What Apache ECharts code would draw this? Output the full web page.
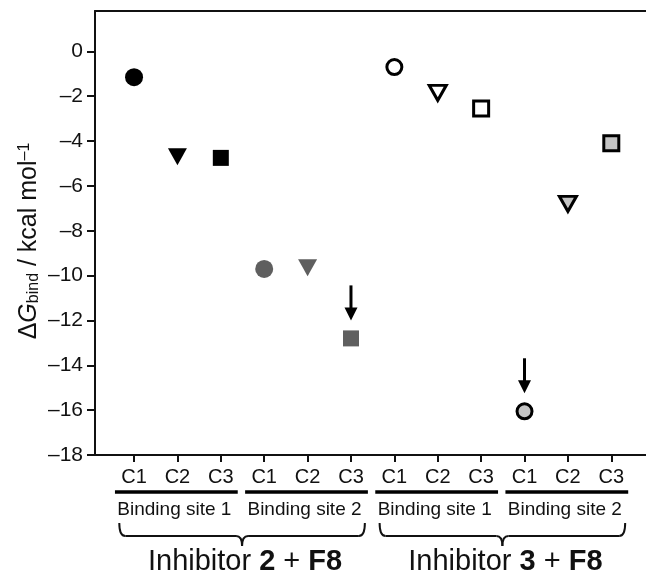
<!DOCTYPE html>
<html>
<head>
<meta charset="utf-8">
<script src="https://cdn.jsdelivr.net/npm/echarts@6/dist/echarts.min.js"></script>
<style>
  html, body { margin: 0; padding: 0; background: #fff; }
  #main { width: 646px; height: 575px; }
</style>
</head>
<body>
<div id="main"></div>
<script>
// data
var conformers = ["C1", "C2", "C3"];
var siteNames = ["Binding site 1", "Binding site 2"];
var inhibitorNames = ["2", "3"];
var inh2Site1 = [-1.15, -4.7, -4.75];
var inh2Site2 = [-9.7, -9.65, -12.8];
var inh3Site1 = [-0.7, -1.85, -2.55];
var inh3Site2 = [-16.05, -6.8, -4.1];
var yTicks = [-18, -16, -14, -12, -10, -8, -6, -4, -2, 0];

var FONT = "Liberation Sans, Arial, sans-serif";
var shapes = ["circle", "triangle", "rect"];
var positions = [];
for (var i = 1; i <= 12; i++) positions.push(i);

function makeSeries(name, values, group, fill, border) {
  var sizes = border ? [15, [17, 15], 15] : [18, [19, 17], 16];
  return {
    type: "scatter",
    name: name,
    data: values.map(function (v, j) {
      return {
        value: [group * 3 + j + 1, v],
        symbol: shapes[j],
        symbolSize: sizes[j],
        symbolRotate: j === 1 ? 180 : 0
      };
    }),
    itemStyle: {
      color: fill,
      borderColor: border || fill,
      borderWidth: border ? 3 : 0,
      opacity: 1
    },
    z: 3
  };
}

// the lowest value of each inhibitor gets an arrow
function lowest(values, group) {
  var min = Math.min.apply(null, values);
  return [group * 3 + values.indexOf(min) + 1, min];
}
var arrowTargets = [
  lowest(inh2Site1.concat(inh2Site2), 0),
  lowest(inh3Site1.concat(inh3Site2), 2)
];

var myChart = echarts.init(document.getElementById("main"));

var option = {
  animation: false,
  grid: { left: 95, right: 0, top: 11, bottom: 120 },
  xAxis: [
    {
      type: "value",
      min: 0.1,
      max: 12.8,
      position: "bottom",
      axisLine: { onZero: false, lineStyle: { color: "#111", width: 2 } },
      axisTick: { length: 7, lineStyle: { color: "#111", width: 2 }, customValues: positions },
      axisLabel: {
        customValues: positions,
        formatter: function (v) { return conformers[(v - 1) % 3]; },
        fontSize: 20,
        fontFamily: FONT,
        color: "#111",
        margin: 12
      },
      splitLine: { show: false }
    },
    {
      type: "value",
      min: 0.1,
      max: 12.8,
      position: "top",
      axisLine: { onZero: false, lineStyle: { color: "#111", width: 2 } },
      axisTick: { show: false },
      axisLabel: { show: false },
      splitLine: { show: false }
    }
  ],
  yAxis: {
    type: "value",
    min: -18,
    max: 1.8,
    axisLine: { show: true, lineStyle: { color: "#111", width: 2 } },
    axisTick: { show: true, length: 8, lineStyle: { color: "#111", width: 2 }, customValues: yTicks },
    axisLabel: {
      customValues: yTicks,
      formatter: function (v) { return v < 0 ? "\u2013" + Math.abs(v) : String(v); },
      fontSize: 21,
      fontFamily: FONT,
      color: "#111",
      margin: 12
    },
    splitLine: { show: false }
  },
  series: [
    makeSeries("Inhibitor 2, site 1", inh2Site1, 0, "#000000", null),
    makeSeries("Inhibitor 2, site 2", inh2Site2, 1, "#5f5f5f", null),
    makeSeries("Inhibitor 3, site 1", inh3Site1, 2, "#ffffff", "#000000"),
    makeSeries("Inhibitor 3, site 2", inh3Site2, 3, "#c4c4c4", "#000000"),
    {
      type: "custom",
      silent: true,
      data: arrowTargets,
      renderItem: function (params, api) {
        var p = api.coord([api.value(0), api.value(1)]);
        var tip = p[1] - 18;
        return {
          type: "group",
          children: [
            {
              type: "line",
              shape: { x1: p[0], y1: tip - 35, x2: p[0], y2: tip - 10 },
              style: { stroke: "#000", lineWidth: 3 }
            },
            {
              type: "polygon",
              shape: { points: [[p[0] - 6.5, tip - 13], [p[0] + 6.5, tip - 13], [p[0], tip]] },
              style: { fill: "#000" }
            }
          ]
        };
      }
    }
  ]
};

myChart.setOption(option);

// group annotations under the x axis
function px(v) { return myChart.convertToPixel({ xAxisIndex: 0 }, v); }

var graphics = [];
graphics.push({
  type: "text",
  x: 29,
  y: 241,
  rotation: Math.PI / 2,
  style: {
    text: "{n|\u0394}{i|G}{s|bind}{n| / kcal mol}{p|\u20131}",
    align: "center",
    verticalAlign: "middle",
    fill: "#111",
    rich: {
      n: { fontSize: 25, fontFamily: FONT, fill: "#111" },
      i: { fontSize: 25, fontFamily: FONT, fontStyle: "italic", fill: "#111" },
      s: { fontSize: 16, fontFamily: FONT, verticalAlign: "bottom", fill: "#111" },
      p: { fontSize: 16, fontFamily: FONT, verticalAlign: "top", fill: "#111" }
    }
  }
});

for (var g = 0; g < 4; g++) {
  var first = g * 3 + 1, last = g * 3 + 3;
  var x1 = px(first - 0.44), x2 = px(last + 0.39);
  graphics.push({
    type: "line",
    shape: { x1: x1, y1: 492, x2: x2, y2: 492 },
    style: { stroke: "#000", lineWidth: 3.5 }
  });
  graphics.push({
    type: "text",
    x: (x1 + x2) / 2 - 2,
    y: 510,
    style: {
      text: siteNames[g % 2],
      font: "19px " + FONT,
      fill: "#111",
      align: "center",
      verticalAlign: "middle"
    }
  });
}

function curve(ax, ay, cx, cy, bx, by) {
  return {
    type: "bezierCurve",
    shape: { x1: ax, y1: ay, cpx1: cx, cpy1: cy, x2: bx, y2: by },
    style: { stroke: "#111", lineWidth: 2, fill: null }
  };
}
function seg(ax, ay, bx, by) {
  return {
    type: "line",
    shape: { x1: ax, y1: ay, x2: bx, y2: by },
    style: { stroke: "#111", lineWidth: 2 }
  };
}

for (var k = 0; k < 2; k++) {
  var b1 = px(k * 6 + 1 - 0.34), b2 = px(k * 6 + 6 + 0.32);
  var bc = (b1 + b2) / 2;
  graphics.push(curve(b1, 523, b1, 536, b1 + 6, 536));
  graphics.push(seg(b1 + 6, 536, bc - 6, 536));
  graphics.push(curve(bc - 6, 536, bc, 536, bc, 546));
  graphics.push(curve(bc, 546, bc, 536, bc + 6, 536));
  graphics.push(seg(bc + 6, 536, b2 - 6, 536));
  graphics.push(curve(b2 - 6, 536, b2, 536, b2, 523));
  graphics.push({
    type: "text",
    x: bc + 3,
    y: 562,
    style: {
      text: "{n|Inhibitor }{b|" + inhibitorNames[k] + "}{n| + }{b|F8}",
      align: "center",
      verticalAlign: "middle",
      rich: {
        n: { fontSize: 29, fontFamily: FONT, fill: "#111" },
        b: { fontSize: 29, fontFamily: FONT, fontWeight: "bold", fill: "#111" }
      }
    }
  });
}

myChart.setOption({ graphic: graphics });
</script>
</body>
</html>
